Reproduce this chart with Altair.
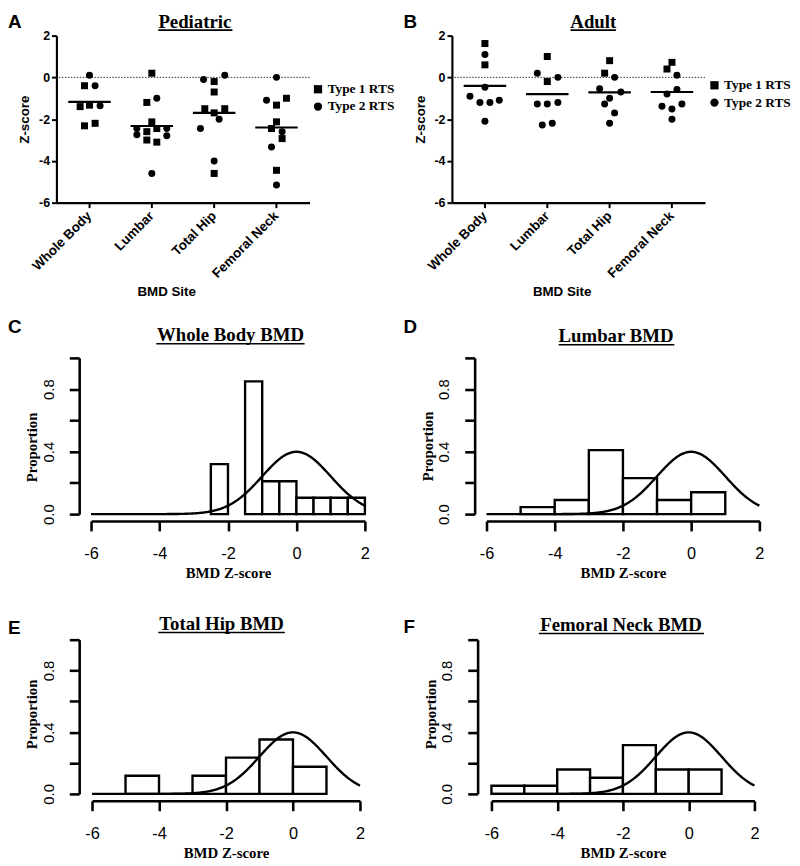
import altair as alt
import pandas as pd

FONT_SANS = "Liberation Sans"
FONT_SERIF = "Liberation Serif"

SITES = ["Whole Body", "Lumbar", "Total Hip", "Femoral Neck"]
RTS_TYPES = ["Type 1 RTS", "Type 2 RTS"]
RTS_SHAPES = ["square", "circle"]

# ---------------- Panel A : Pediatric Z-scores ----------------
ped_site = (["Whole Body"] * 8 + ["Lumbar"] * 13 + ["Total Hip"] * 11 + ["Femoral Neck"] * 11)
ped_z = [0.1, -0.4, -0.4, -1.4, -1.33, -1.36, -2.32, -2.2,
         0.2, -1.0, -1.2, -2.13, -2.45, -2.45, -2.45, -2.6, -2.75, -2.8, -3.0, -3.1, -4.6,
         -0.1, -0.2, 0.1, -0.7, -1.5, -1.7, -1.5, -2.0, -2.45, -4.0, -4.6,
         0.0, -1.1, -1.0, -1.33, -2.13, -2.45, -2.6, -2.93, -3.33, -4.45, -5.15]
ped_type = [2, 1, 2, 1, 1, 2, 1, 1,
            1, 2, 1, 1, 2, 1, 2, 1, 2, 2, 1, 1, 2,
            2, 1, 2, 1, 1, 1, 1, 2, 2, 2, 1,
            2, 2, 1, 1, 1, 1, 2, 1, 2, 1, 2]
ped_jitter = [0, -0.08, 0.09, -0.15, 0, 0.17, -0.08, 0.09,
              0, 0.08, -0.08, 0, -0.24, 0.08, 0.24, -0.08, -0.24, 0.24, -0.08, 0.08, 0,
              -0.17, 0, 0.17, 0, -0.15, 0, 0.17, 0.08, -0.22, 0, 0,
              0, -0.16, 0.16, 0, 0, -0.08, 0.09, 0.09, -0.08, 0, 0]
ped_mean = [-1.17, -2.33, -1.70, -2.40]

# ---------------- Panel B : Adult Z-scores ----------------
adult_site = (["Whole Body"] * 9 + ["Lumbar"] * 9 + ["Total Hip"] * 9 + ["Femoral Neck"] * 9)
adult_z = [1.62, 1.1, 0.6, -0.47, -0.9, -1.2, -1.2, -1.1, -2.1,
           1.0, 0.2, -0.2, 0.0, -1.27, -1.27, -1.2, -2.28, -2.2,
           0.8, 0.2, 0.0, -0.55, -0.7, -1.0, -1.27, -1.7, -2.2,
           0.72, 0.4, 0.1, -0.58, -0.8, -1.38, -1.52, -1.27, -2.0]
adult_type = [1, 2, 1, 2, 2, 2, 2, 2, 2,
              1, 2, 1, 2, 2, 2, 2, 2, 2,
              1, 1, 2, 2, 2, 2, 2, 2, 2,
              1, 1, 2, 2, 2, 2, 2, 2, 2]
adult_jitter = [0, 0, 0, 0, -0.24, -0.08, 0.08, 0.23, 0,
                0, -0.16, 0, 0.17, -0.16, 0, 0.17, -0.08, 0.08,
                0, -0.08, 0.08, -0.16, 0.18, 0, -0.08, 0.08, 0,
                0, -0.08, 0.08, 0.08, -0.08, -0.16, 0, 0.16, 0]
adult_mean = [-0.41, -0.80, -0.72, -0.70]

# ---------------- Histograms (C-F) ----------------
wb_start = [-2.5, -1.5, -1.0, -0.5, 0.0, 0.5, 1.0, 1.5]
wb_end = [-2.0, -1.0, -0.5, 0.0, 0.5, 1.0, 1.5, 2.0]
wb_prop = [0.32, 0.85, 0.21, 0.21, 0.105, 0.105, 0.105, 0.105]

lum_start = [-5, -4, -3, -2, -1, 0]
lum_end = [-4, -3, -2, -1, 0, 1]
lum_prop = [0.045, 0.09, 0.41, 0.23, 0.09, 0.14]

hip_start = [-5, -4, -3, -2, -1, 0]
hip_end = [-4, -3, -2, -1, 0, 1]
hip_prop = [0.118, 0.0, 0.118, 0.235, 0.353, 0.176]

neck_start = [-6, -5, -4, -3, -2, -1, 0]
neck_end = [-5, -4, -3, -2, -1, 0, 1]
neck_prop = [0.053, 0.053, 0.158, 0.105, 0.316, 0.158, 0.158]

# reference standard normal curve
NORMAL_MEAN = 0.0
NORMAL_SD = 1.0

DOT_PLOT_H = 169
DOT_CELL_H = 199


def label_text(txt, x, y, font, size, align="center"):
    return alt.Chart(pd.DataFrame({"label": [txt]})).mark_text(
        font=font, fontSize=size, fontWeight="bold", align=align,
        baseline="alphabetic", color="black"
    ).encode(text="label:N", x=alt.value(x), y=alt.value(y))


def underline(x1, x2, y):
    return alt.Chart(pd.DataFrame({"u": [0]})).mark_rule(
        color="black", strokeWidth=1.6
    ).encode(x=alt.value(x1), x2=alt.value(x2), y=alt.value(y))


def dot_panel(site, z, typ, jit, means, title, letter, title_cx, ul, leg_x, leg_y):
    df = pd.DataFrame({"site": site, "z": z,
                       "type": [RTS_TYPES[t - 1] for t in typ], "dx": jit})
    mdf = pd.DataFrame({"site": SITES, "z": means})
    zdf = pd.DataFrame({"z": [0.0]})
    xs = alt.Scale(domain=SITES, paddingInner=0, paddingOuter=0.03)
    ys = alt.Scale(domain=[-6, 2], range=[DOT_PLOT_H, 0], nice=False, zero=False)
    xa = alt.Axis(labelAngle=315, labelAlign="right", labelBaseline="middle",
                  labelFont=FONT_SANS, labelFontWeight="bold", labelFontSize=13.5,
                  labelColor="black", labelPadding=6, labelOverlap=False,
                  tickSize=5, tickWidth=2, tickColor="black",
                  domainColor="black", domainWidth=2.2, grid=False, offset=-(DOT_CELL_H - DOT_PLOT_H),
                  titleFont=FONT_SANS, titleFontWeight="bold", titleFontSize=13.5,
                  titleColor="black", titleX=111, titleY=94, titleAlign="center",
                  titleBaseline="alphabetic")
    ya = alt.Axis(values=[-6, -4, -2, 0, 2], labelExpr="'' + datum.value",
                  labelFont=FONT_SANS, labelFontWeight="bold", labelFontSize=12.5,
                  labelColor="black", labelPadding=2, tickSize=5, tickWidth=2,
                  tickColor="black", domainColor="black", domainWidth=2.2, grid=False,
                  titleFont=FONT_SANS, titleFontWeight="bold", titleFontSize=13.5,
                  titleColor="black", titleAngle=270, titleX=-32, titleY=DOT_PLOT_H / 2,
                  titleAlign="center", titleBaseline="middle")
    X = alt.X("site:N", scale=xs, axis=xa, title="BMD Site")
    Y = alt.Y("z:Q", scale=ys, axis=ya, title="Z-score")
    zero = alt.Chart(zdf).mark_rule(color="#333", strokeDash=[1.5, 1.5], strokeWidth=1).encode(y=Y)
    pts = alt.Chart(df).mark_point(filled=True, color="black", opacity=1, size=50, strokeWidth=0).encode(
        x=X, y=Y,
        xOffset=alt.XOffset("dx:Q", scale=alt.Scale(domain=[-0.5, 0.5], nice=False, zero=False)),
        shape=alt.Shape("type:N", scale=alt.Scale(domain=RTS_TYPES, range=RTS_SHAPES),
                        legend=alt.Legend(title=None, orient="none", legendX=leg_x, legendY=leg_y,
                                          symbolSize=70, symbolFillColor="black",
                                          symbolStrokeColor="black", symbolStrokeWidth=0,
                                          symbolOpacity=1, labelFont=FONT_SERIF,
                                          labelFontWeight="bold", labelFontSize=13.5,
                                          labelColor="black", labelOffset=3, rowPadding=2.5,
                                          padding=0)))
    ticks = alt.Chart(mdf).mark_tick(orient="horizontal", color="black", opacity=1,
                                     thickness=2.2, size=43).encode(x=X, y=Y)
    return alt.layer(
        zero, pts, ticks,
        label_text(title, title_cx, -8, FONT_SERIF, 19),
        underline(ul[0], ul[1], -5.5),
        label_text(letter, -49, -8, FONT_SANS, 19, align="left"),
    ).properties(width=256, height=DOT_CELL_H)


def hist_panel(start, end, prop, title, letter, width, height, xr, yoff,
               title_cx, title_y, ul, letter_y, prop_title_y):
    df = pd.DataFrame({"start": start, "end": end, "prop": prop})
    xs = alt.Scale(domain=[-6, 2], range=xr, nice=False, zero=False)
    ys = alt.Scale(domain=[0, 1], nice=False, zero=False)
    xa = alt.Axis(values=[-6, -4, -2, 0, 2], labelExpr="'' + datum.value", offset=7, grid=False,
                  domainColor="black", domainWidth=2.6, tickColor="black", tickWidth=2.6,
                  tickSize=10, labelFont=FONT_SANS, labelFontSize=16.5, labelColor="black",
                  labelPadding=15, labelFlush=False, labelOverlap=False,
                  titleFont=FONT_SERIF, titleFontWeight="bold", titleFontSize=15,
                  titleColor="black", titleX=(xr[0] + xr[1]) / 2, titleY=57,
                  titleAlign="center", titleBaseline="alphabetic")
    ya = alt.Axis(values=[0, 0.2, 0.4, 0.6, 0.8, 1.0],
                  labelExpr="(datum.value == 0 || datum.value == 0.4 || datum.value == 0.8) ? format(datum.value, '.1f') : ''",
                  offset=yoff, grid=False, domainColor="black", domainWidth=2.6,
                  tickColor="black", tickWidth=2.6, tickSize=10, labelFont=FONT_SANS,
                  labelFontSize=15, labelColor="black", labelAngle=270, labelAlign="center",
                  labelBaseline="bottom", labelPadding=13, labelFlush=False, labelOverlap=False,
                  titleFont=FONT_SERIF, titleFontWeight="bold", titleFontSize=15,
                  titleColor="black", titleAngle=270, titleX=-48, titleY=prop_title_y,
                  titleAlign="center", titleBaseline="middle")
    X = alt.X("start:Q", scale=xs, axis=xa, title="BMD Z-score")
    Y = alt.Y("prop:Q", scale=ys, axis=ya, title="Proportion")
    bars = alt.Chart(df).mark_rect(fill="white", stroke="black", strokeWidth=2.4).encode(
        x=X, x2="end:Q", y=Y, y2=alt.datum(0))
    pdf = (f"exp(-pow(datum.start - ({NORMAL_MEAN}), 2) / (2 * {NORMAL_SD} * {NORMAL_SD}))"
           f" / ({NORMAL_SD} * sqrt(2 * PI))")
    curve = alt.Chart(alt.sequence(-6, 2.0001, 0.02, as_="start")).transform_calculate(
        prop=pdf).mark_line(color="black", strokeWidth=2.4).encode(x=X, y=Y)
    return alt.layer(
        bars, curve,
        label_text(title, title_cx, title_y, FONT_SERIF, 19),
        underline(ul[0], ul[1], title_y + 2.7),
        label_text(letter, -49, letter_y, FONT_SANS, 19, align="left"),
    ).properties(width=width, height=height)


panel_a = dot_panel(ped_site, ped_z, ped_type, ped_jitter, ped_mean, "Pediatric", "A",
                    140, (103, 178), 257.8, 47.5)
panel_b = dot_panel(adult_site, adult_z, adult_type, adult_jitter, adult_mean, "Adult", "B",
                    143, (120, 166), 258.8, 43.5)
panel_c = hist_panel(wb_start, wb_end, wb_prop, "Whole Body BMD", "C", 312, 158, [35, 312], -23,
                     176, -17, (101, 251), -25, 90)
panel_d = hist_panel(lum_start, lum_end, lum_prop, "Lumbar BMD", "D", 311, 158, [35, 311], -23,
                     166, -16, (108, 225), -25, 89)
panel_e = hist_panel(hip_start, hip_end, hip_prop, "Total Hip BMD", "E", 307, 156, [36, 307], -23,
                     167, -10, (103, 231), -6, 75)
panel_f = hist_panel(neck_start, neck_end, neck_prop, "Femoral Neck BMD", "F", 306, 156, [40, 306], -26,
                     171, -9, (88, 255), -7, 75)

chart = alt.concat(
    panel_a, panel_b, panel_c, panel_d, panel_e, panel_f,
    columns=2, spacing={"row": 127, "column": 88}, bounds="flush"
).resolve_scale(shape="independent").resolve_legend(shape="independent").properties(
    padding=0
).configure_view(stroke=None)

chart.save("out.html", embed_options={"renderer": "svg", "actions": False})
